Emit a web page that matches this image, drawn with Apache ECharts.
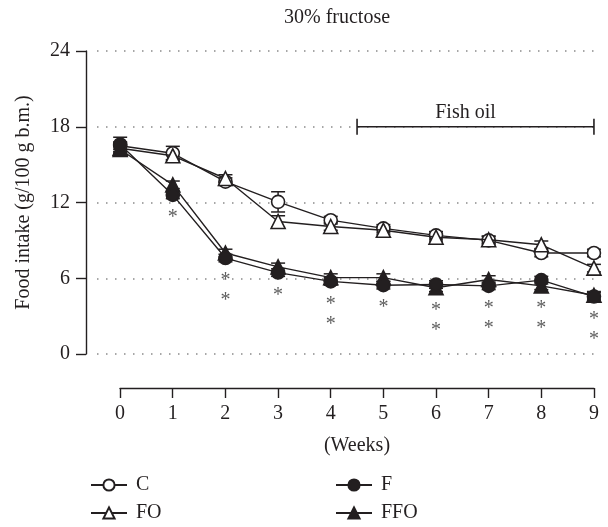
<!DOCTYPE html>
<html>
<head>
<meta charset="utf-8">
<script src="https://cdn.jsdelivr.net/npm/echarts@6/dist/echarts.min.js"></script>
<style>
  html, body { margin: 0; padding: 0; background: #fff; }
  #chart { width: 608px; height: 527px; }
</style>
</head>
<body>
<div id="chart"></div>
<script>
// Weekly food intake (g/100 g b.m.) of the four groups
const weeks = [0, 1, 2, 3, 4, 5, 6, 7, 8, 9];
const cMean   = [16.5, 15.9, 13.65, 12.05, 10.6, 9.95, 9.4, 9.0, 8.0, 8.0];
const foMean  = [16.3, 15.7, 13.9, 10.5, 10.1, 9.8, 9.25, 9.05, 8.65, 6.8];
const fMean   = [16.6, 12.6, 7.6, 6.45, 5.75, 5.45, 5.5, 5.4, 5.85, 4.55];
const ffoMean = [16.2, 13.4, 8.0, 6.9, 6.05, 6.05, 5.25, 5.9, 5.4, 4.65];

// SEM
const cErr   = [0.3, 0.55, 0.3, 0.8, 0.3, 0.3, 0.3, 0.3, 0.3, 0.3];
const foErr  = [0.3, 0.3, 0.3, 0.45, 0.3, 0.3, 0.3, 0.3, 0.3, 0.3];
const fErr   = [0.57, 0.3, 0.3, 0.3, 0.3, 0.3, 0.3, 0.3, 0.3, 0.3];
const ffoErr = [0.3, 0.3, 0.3, 0.3, 0.3, 0.3, 0.3, 0.3, 0.3, 0.3];

// number of significance marks (*) under the fructose groups
const sigMarks = [0, 1, 2, 1, 2, 1, 2, 2, 2, 2];

// fish oil supplementation period (weeks) and the level where its bracket sits
const fishOilPeriod = [4.5, 9];
const fishOilLevel = 18;

const yTicks = [0, 6, 12, 18, 24];

const FONT = '"Liberation Serif", "DejaVu Serif", serif';
const INK = '#231f20';
const TXT = 20;

function pairs(ys) { return weeks.map((w, i) => [w, ys[i]]); }
function errData(ys, es) { return weeks.map((w, i) => [w, ys[i] - es[i], ys[i] + es[i]]); }

function errorSeries(ys, es, z) {
  return {
    type: 'custom',
    xAxisIndex: 0, yAxisIndex: 0,
    z: z,
    silent: true,
    data: errData(ys, es),
    encode: { x: 0, y: [1, 2] },
    renderItem: function (params, api) {
      const x = api.value(0);
      const lo = api.coord([x, api.value(1)]);
      const hi = api.coord([x, api.value(2)]);
      const hw = 7;
      const st = { stroke: INK, lineWidth: 1.5 };
      return {
        type: 'group',
        children: [
          { type: 'line', shape: { x1: lo[0], y1: lo[1], x2: hi[0], y2: hi[1] }, style: st },
          { type: 'line', shape: { x1: hi[0] - hw, y1: hi[1], x2: hi[0] + hw, y2: hi[1] }, style: st },
          { type: 'line', shape: { x1: lo[0] - hw, y1: lo[1], x2: lo[0] + hw, y2: lo[1] }, style: st }
        ]
      };
    }
  };
}

function lineSeries(name, ys, symbol, fill, z) {
  return {
    name: name,
    type: 'line',
    xAxisIndex: 0, yAxisIndex: 0,
    z: z,
    data: pairs(ys),
    symbol: symbol,
    symbolSize: symbol === 'triangle' ? 14 : 13,
    showAllSymbol: true,
    lineStyle: { color: INK, width: 1.4 },
    itemStyle: { color: fill, borderColor: INK, borderWidth: 1.6 },
    emphasis: { disabled: true },
    animation: false
  };
}

function legendRow(name, left, top) {
  return {
    data: [name],
    left: left, top: top,
    itemWidth: 36, itemHeight: 14,
    textStyle: { fontFamily: FONT, fontSize: TXT, color: INK, padding: [0, 0, 0, 4] },
    selectedMode: false
  };
}

const lowerOfFructose = weeks.map((w, i) => [w, Math.min(fMean[i], ffoMean[i]), sigMarks[i]]);

const chart = echarts.init(document.getElementById('chart'), null, { renderer: 'canvas' });

chart.setOption({
  animation: false,
  backgroundColor: '#fff',
  title: {
    text: '30% fructose',
    left: 279, top: 3,
    textStyle: { fontFamily: FONT, fontSize: TXT, fontWeight: 'normal', color: INK }
  },
  legend: [
    legendRow('C', 85, 470),
    legendRow('FO', 85, 498),
    legendRow('F', 330, 470),
    legendRow('FFO', 330, 498)
  ],
  grid: [
    { left: 97, right: 13, top: 51, bottom: 173 },
    { left: 120, right: 14, top: 51, bottom: 173 }
  ],
  xAxis: [
    {
      gridIndex: 0, type: 'value', min: -0.44, max: 9.02,
      show: false
    },
    {
      gridIndex: 1, type: 'value', min: 0, max: 9, interval: 1,
      offset: 34,
      name: '(Weeks)', nameLocation: 'middle', nameGap: 48,
      nameTextStyle: { fontFamily: FONT, fontSize: TXT, color: INK },
      axisLine: { show: true, onZero: false, lineStyle: { color: INK, width: 1.4 } },
      axisTick: { show: true, inside: false, length: 10, lineStyle: { color: INK, width: 1.4 } },
      axisLabel: { margin: 16, fontFamily: FONT, fontSize: TXT, color: INK },
      splitLine: { show: false }
    }
  ],
  yAxis: [
    {
      gridIndex: 0, type: 'value', min: yTicks[0], max: yTicks[yTicks.length - 1], interval: 6,
      offset: 11,
      name: 'Food intake (g/100 g b.m.)', nameLocation: 'middle', nameGap: 52,
      nameTextStyle: { fontFamily: FONT, fontSize: TXT, color: INK },
      axisLine: { show: true, onZero: false, lineStyle: { color: INK, width: 1.4 } },
      axisTick: { show: true, inside: false, length: 10, lineStyle: { color: INK, width: 1.4 } },
      axisLabel: { margin: 16, fontFamily: FONT, fontSize: TXT, color: INK },
      splitLine: { show: true, lineStyle: { color: '#8a8a8a', width: 1.5, type: [1.5, 7.5] } }
    },
    {
      gridIndex: 1, type: 'value', min: 0, max: 24, show: false
    }
  ],
  series: [
    // fish oil bracket
    {
      type: 'custom',
      xAxisIndex: 0, yAxisIndex: 0,
      silent: true,
      data: [[fishOilPeriod[0], fishOilPeriod[1], fishOilLevel]],
      encode: { x: [0, 1], y: 2 },
      renderItem: function (params, api) {
        const a = api.coord([api.value(0), api.value(2)]);
        const b = api.coord([api.value(1), api.value(2)]);
        const st = { stroke: INK, lineWidth: 1.6 };
        return {
          type: 'group',
          children: [
            { type: 'line', shape: { x1: a[0], y1: a[1], x2: b[0], y2: b[1] }, style: st },
            { type: 'line', shape: { x1: a[0], y1: a[1] - 8, x2: a[0], y2: a[1] + 8 }, style: st },
            { type: 'line', shape: { x1: b[0], y1: b[1] - 8, x2: b[0], y2: b[1] + 8 }, style: st },
            {
              type: 'text',
              style: {
                text: 'Fish oil', x: (a[0] + b[0]) / 2 - 10, y: a[1] - 4,
                align: 'center', verticalAlign: 'bottom',
                font: TXT + 'px ' + FONT, fill: INK
              }
            }
          ]
        };
      }
    },
    errorSeries(cMean, cErr, 1),
    errorSeries(foMean, foErr, 1),
    errorSeries(ffoMean, ffoErr, 1),
    errorSeries(fMean, fErr, 1),
    lineSeries('C', cMean, 'circle', '#fff', 2),
    lineSeries('FO', foMean, 'triangle', '#fff', 3),
    lineSeries('FFO', ffoMean, 'triangle', INK, 4),
    lineSeries('F', fMean, 'circle', INK, 5),
    // significance marks
    {
      type: 'scatter',
      xAxisIndex: 0, yAxisIndex: 0,
      silent: true,
      symbolSize: 0,
      z: 6,
      data: lowerOfFructose,
      label: {
        show: true,
        position: 'bottom',
        distance: 13,
        lineHeight: 20,
        fontFamily: FONT, fontSize: 20, color: '#333',
        formatter: function (p) {
          const n = p.value[2];
          return n > 0 ? new Array(n).fill('*').join('\n') : '';
        }
      }
    }
  ]
});
</script>
</body>
</html>
